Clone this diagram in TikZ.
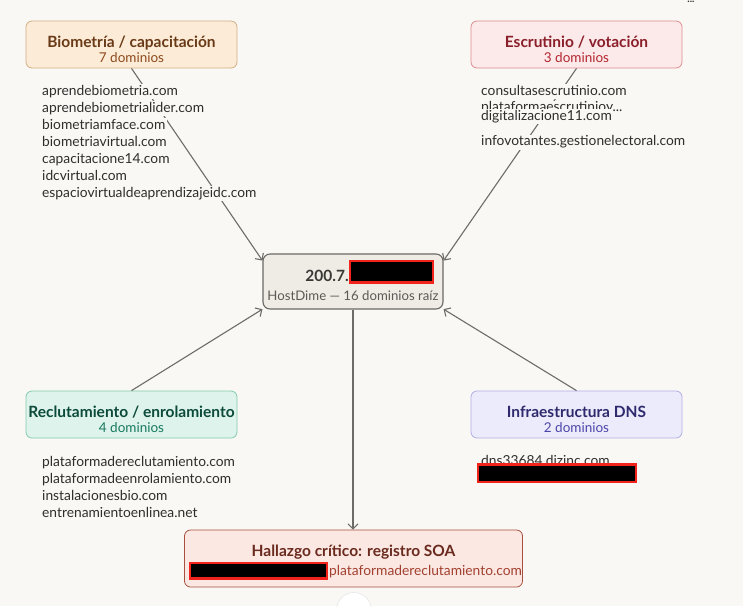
\documentclass[tikz,border=0pt]{standalone}
\usepackage{fontspec}
\setmainfont{Lato}
\usepackage{tikz}
\usetikzlibrary{positioning, arrows.meta}
\definecolor{paper}    {HTML}{F9F8F5}
\definecolor{ink}      {HTML}{2F2E2C}
\definecolor{edgeGray} {HTML}{6E6C69}
\definecolor{redactRed}{HTML}{F2231B}
\definecolor{bioFill}  {HTML}{FBEBD7}
\definecolor{bioLine}  {HTML}{D4AE85}
\definecolor{bioTitle} {HTML}{6A3A17}
\definecolor{bioSub}   {HTML}{8E4A1C}
\definecolor{escFill}  {HTML}{FCE9E9}
\definecolor{escLine}  {HTML}{DE8C8F}
\definecolor{escTitle} {HTML}{8A1F2A}
\definecolor{escSub}   {HTML}{B3262F}
\definecolor{hubFill}  {HTML}{EFECE6}
\definecolor{hubLine}  {HTML}{6B6965}
\definecolor{hubTitle} {HTML}{3A3835}
\definecolor{hubSub}   {HTML}{5C5A56}
\definecolor{recFill}  {HTML}{DDF3EC}
\definecolor{recLine}  {HTML}{86C9AE}
\definecolor{recTitle} {HTML}{0C4A3A}
\definecolor{recSub}   {HTML}{177A5C}
\definecolor{dnsFill}  {HTML}{ECEBFB}
\definecolor{dnsLine}  {HTML}{B1ADE3}
\definecolor{dnsTitle} {HTML}{2F2A6E}
\definecolor{dnsSub}   {HTML}{4B45A8}
\definecolor{soaFill}  {HTML}{FBE8E3}
\definecolor{soaLine}  {HTML}{A8503F}
\definecolor{soaTitle} {HTML}{6A2A1E}
\definecolor{soaSub}   {HTML}{A3402F}
\tikzset{
  catbox/.style={rectangle, rounded corners=6pt, minimum width=211pt,
    minimum height=47pt, inner sep=0pt, line width=0.8pt},
  boxtitle/.style={anchor=base, inner sep=0pt, font=\fontsize{15.5}{17}\selectfont\bfseries},
  boxsub/.style={anchor=base, inner sep=0pt, font=\fontsize{13.5}{15}\selectfont},
  domline/.style={anchor=base west, fill=paper, inner xsep=1.5pt, inner ysep=1pt,
    text height=10pt, text depth=3pt, font=\fontsize{13.8}{15}\selectfont, text=ink},
  link/.style={-{Straight Barb[length=5pt,width=10pt]}, line width=1.1pt, draw=edgeGray},
  redact/.style={fill=black, draw=redactRed, line width=2.4pt},
}
\begin{document}
\begin{tikzpicture}[x=1pt, y=-1pt]
  \fill[paper] (0,0) rectangle (743,606);
  \useasboundingbox (0,0) rectangle (743,606);
  % category boxes
  \node[catbox, fill=bioFill, draw=bioLine] (bio) at (131.5,44.5) {};
  \node[boxtitle, text=bioTitle] (bio-t) at ([yshift=-2.5pt]bio.center) {Biometría / capacitación};
  \node[boxsub, text=bioSub] (bio-s) at ([yshift=-17.5pt]bio.center) {7 dominios};
  \node[catbox, fill=escFill, draw=escLine] (esc) at (576.5,44.5) {};
  \node[boxtitle, text=escTitle] (esc-t) at ([yshift=-2.5pt]esc.center) {Escrutinio / votación};
  \node[boxsub, text=escSub] (esc-s) at ([yshift=-17.5pt]esc.center) {3 dominios};
  \node[catbox, fill=recFill, draw=recLine] (rec) at (131.5,414.5) {};
  \node[boxtitle, text=recTitle] (rec-t) at ([yshift=-2.5pt]rec.center) {Reclutamiento / enrolamiento};
  \node[boxsub, text=recSub] (rec-s) at ([yshift=-17.5pt]rec.center) {4 dominios};
  \node[catbox, fill=dnsFill, draw=dnsLine] (dns) at (576.5,414.5) {};
  \node[boxtitle, text=dnsTitle] (dns-t) at ([yshift=-2.5pt]dns.center) {Infraestructura DNS};
  \node[boxsub, text=dnsSub] (dns-s) at ([yshift=-17.5pt]dns.center) {2 dominios};
  % central host
  \node[catbox, minimum width=180pt, minimum height=55pt, rounded corners=7pt,
        fill=hubFill, draw=hubLine, line width=1.1pt] (hub) at (353,281.5) {};
  \node[boxtitle, anchor=base east, text=hubTitle, font=\fontsize{15.5}{17}\selectfont\bfseries]
    (hub-t) at (349,281) {200.7.};
  \draw[redact] (350,261) rectangle (433,282.5);
  \node[boxsub, text=hubSub, font=\fontsize{13.2}{15}\selectfont]
    (hub-s) at ([yshift=-19pt]hub.center) {HostDime — 16 dominios raíz};
  % finding
  \node[catbox, minimum width=338pt, minimum height=57pt,
        fill=soaFill, draw=soaLine] (soa) at (353.5,558.5) {};
  \node[boxtitle, text=soaTitle] (soa-t) at ([yshift=2.5pt]soa.center) {Hallazgo crítico: registro SOA};
  \node[boxsub, anchor=base west, text=soaSub, font=\fontsize{13.8}{15}\selectfont]
    (soa-s) at (329,575) {plataformadereclutamiento.com};
  \draw[redact] (190,563) rectangle (327,578.5);
  % links
  \draw[link] (bio.south) -- (hub.167);
  \draw[link] (esc.south) -- (hub.13);
  \draw[link] (rec.north) -- (hub.197);
  \draw[link] (dns.north) -- (hub.-17);
  \draw[link] (hub.south) -- (hub.south |- soa.north);
  % domain lists
  \foreach \dom [count=\i] in {aprendebiometria.com, aprendebiometrialider.com,
      biometriamface.com, biometriavirtual.com, capacitacione14.com,
      idcvirtual.com, espaciovirtualdeaprendizajeidc.com}
    \node[domline] (bio-d\i) at (40.5,{78+17*\i}) {\dom};
  \node[domline] (esc-d1) at (479.5,95)    {consultasescrutinio.com};
  \node[domline] (esc-d2) at (479.5,111.5) {plataformaescrutinioy...};
  \node[domline] (esc-d3) at (479.5,120)   {digitalizacione11.com};
  \node[domline] (esc-d4) at (479.5,145.5) {infovotantes.gestionelectoral.com};
  \foreach \dom [count=\i] in {plataformadereclutamiento.com,
      plataformadeenrolamiento.com, instalacionesbio.com, entrenamientoenlinea.net}
    \node[domline] (rec-d\i) at (40.5,{449.5+17*\i}) {\dom};
  \node[domline] (dns-d1) at (479.5,465) {dns33684.dizinc.com};
  \draw[redact] (478,464.5) rectangle (636,482);
  % page controls
  \node[circle, fill=white, draw=black!12, minimum size=35pt] (add) at (354,610) {};
  \node[text=ink, font=\bfseries, anchor=base, inner sep=0pt] (menu) at (691,2) {...};
\end{tikzpicture}
\end{document}
